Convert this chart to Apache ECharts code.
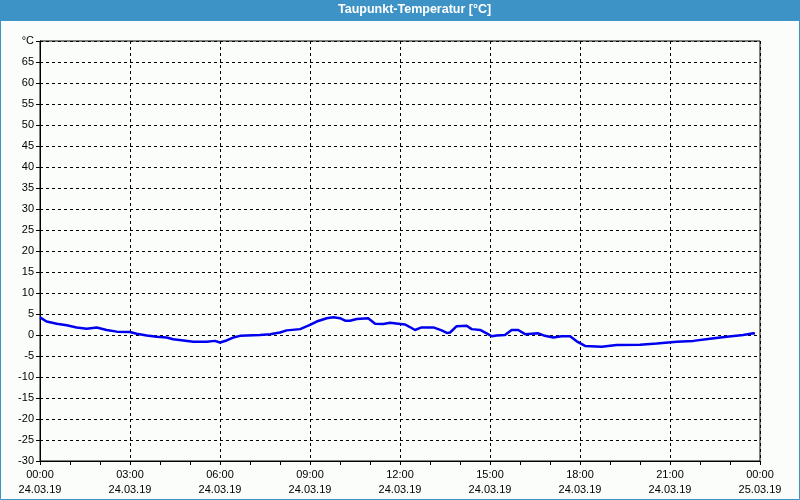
<!DOCTYPE html>
<html><head><meta charset="utf-8">
<script src="https://cdn.jsdelivr.net/npm/echarts@6/dist/echarts.min.js"></script>
<style>html,body{margin:0;padding:0;background:#fbfdfb;}#c{width:800px;height:500px;}</style>
</head><body><div id="c"></div>
<script>
const title = 'Taupunkt-Temperatur [°C]';
const hours = [0,0.06,0.22,0.56,0.89,1.22,1.56,1.89,2.22,2.56,3.0,3.22,3.56,3.89,4.22,4.44,4.78,5.11,5.56,5.83,6.0,6.22,6.44,6.67,7.33,7.67,8.0,8.22,8.67,9.0,9.22,9.56,9.78,10.0,10.17,10.33,10.56,10.94,11.17,11.44,11.67,11.94,12.17,12.33,12.5,12.72,13.11,13.39,13.56,13.67,13.89,14.22,14.39,14.67,14.89,15.06,15.22,15.5,15.72,15.94,16.17,16.61,16.83,17.11,17.39,17.67,17.89,18.17,18.72,19.22,20.0,20.56,21.22,21.78,22.33,22.89,23.44,23.78,23.83];
const dewpoint = [4.2,4.0,3.2,2.7,2.3,1.8,1.5,1.8,1.2,0.8,0.7,0.3,-0.1,-0.4,-0.6,-1.0,-1.3,-1.6,-1.6,-1.4,-1.8,-1.3,-0.6,-0.2,0,0.2,0.6,1.1,1.4,2.4,3.2,4.0,4.2,4.0,3.4,3.4,3.8,4.0,2.7,2.6,2.9,2.7,2.5,1.9,1.2,1.8,1.8,1.1,0.5,0.6,2.1,2.2,1.4,1.2,0.4,-0.3,-0.1,0,1.2,1.2,0.2,0.4,-0.2,-0.6,-0.3,-0.3,-1.5,-2.6,-2.8,-2.4,-2.3,-2.0,-1.6,-1.4,-0.9,-0.4,0,0.4,0.3];
const xTickTimes = ['00:00','03:00','06:00','09:00','12:00','15:00','18:00','21:00','00:00'];
const xTickDates = ['24.03.19','24.03.19','24.03.19','24.03.19','24.03.19','24.03.19','24.03.19','24.03.19','25.03.19'];
const yUnit = '°C';

const chart = echarts.init(document.getElementById('c'), null, {renderer:'canvas'});
const font = 'Liberation Sans';
chart.setOption({
  backgroundColor:'#fbfdfb',
  animation:false,
  graphic:[
    {type:'rect', shape:{x:0,y:0,width:800,height:21}, style:{fill:'#3d93c5'}, z:10},
    {type:'rect', shape:{x:0.5,y:0.5,width:799,height:499}, style:{fill:'none',stroke:'#3d93c5',lineWidth:1}, z:10},
    {type:'text', left:338, top:3, style:{text:title, fill:'#ffffff', font:'bold 12.5px "Liberation Sans"'}, z:11}
  ],
  grid:{left:40, right:40, top:41, bottom:39, outerBoundsMode:'none', containLabel:false, show:true, borderColor:'#000', borderWidth:1, backgroundColor:'transparent'},
  xAxis:{
    type:'value', min:0, max:24, interval:3,
    axisLine:{show:true, onZero:false, lineStyle:{color:'#000'}},
    axisTick:{show:true, length:4, lineStyle:{color:'#000'}},
    minorTick:{show:true, splitNumber:3, length:4, lineStyle:{color:'#000'}},
    splitLine:{show:true, lineStyle:{color:'#000', type:[3,3], width:1}},
    axisLabel:{color:'#000', fontFamily:font, fontSize:11, margin:6, lineHeight:15,
      formatter:function(v){const i=Math.round(v/3);return xTickTimes[i]+'\n'+xTickDates[i];}}
  },
  yAxis:{
    type:'value', min:-30, max:70, interval:5,
    axisLine:{show:true, onZero:false, lineStyle:{color:'#000'}},
    axisTick:{show:true, length:4, lineStyle:{color:'#000'}},
    splitLine:{show:true, lineStyle:{color:'#000', type:[3,3], width:1}},
    axisLabel:{color:'#000', fontFamily:font, fontSize:11, margin:6,
      formatter:function(v){return v===70?yUnit:String(v);}}
  },
  series:[{
    type:'line', data:hours.map((h,i)=>[h,dewpoint[i]]),
    showSymbol:false, symbol:'none',
    lineStyle:{color:'#0000ee', width:2.5}
  }]
});
</script></body></html>
